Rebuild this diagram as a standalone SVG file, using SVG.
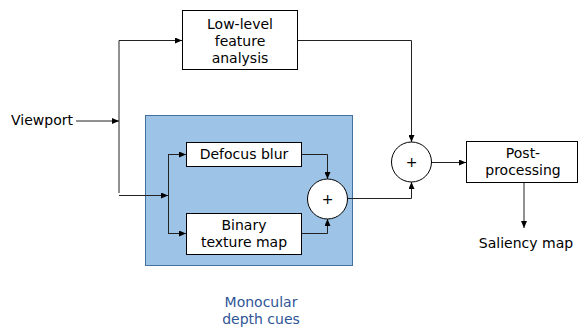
<svg xmlns="http://www.w3.org/2000/svg" width="579" height="331" viewBox="0 0 579 331">
<defs>
<marker id="ah" markerWidth="7" markerHeight="6" refX="7" refY="3" orient="auto" markerUnits="userSpaceOnUse">
<path d="M0,0 L7,3 L0,6 Z" fill="#000"/>
</marker>
<style>
text{font-family:"DejaVu Sans","Verdana",sans-serif;font-size:14px;fill:#000;text-anchor:middle}
.box{fill:#fff;stroke:#000;stroke-width:1}
.ln{fill:none;stroke:#222;stroke-width:1}
.arr{marker-end:url(#ah)}
.grp{fill:#9DC3E6;stroke:#41719C;stroke-width:1}
.blue{fill:#2F5597}
</style>
</defs>
<rect width="579" height="331" fill="#fff"/>
<g id="monocular">
<rect class="grp" x="145.5" y="115.5" width="207" height="150"/>
<text class="blue" x="261" y="307">Monocular</text>
<text class="blue" x="261" y="324">depth cues</text>
</g>
<g id="connectors">
<path class="ln arr" d="M76,121 L119,121"/>
<path class="ln" d="M119,193 L119,40.5"/>
<path class="ln arr" d="M119,40.5 L182,40.5"/>
<path class="ln arr" d="M119,195.5 L168,195.5"/>
<path class="ln" d="M168.5,154 L168.5,233"/>
<path class="ln arr" d="M168,154.5 L186,154.5"/>
<path class="ln arr" d="M168,233.5 L186,233.5"/>
<path class="ln arr" d="M302,154.5 L327.5,154.5 L327.5,179"/>
<path class="ln arr" d="M302,233.5 L327.5,233.5 L327.5,219"/>
<path class="ln arr" d="M347,198.5 L411.5,198.5 L411.5,182"/>
<path class="ln arr" d="M297,40.5 L411.5,40.5 L411.5,142"/>
<path class="ln arr" d="M431,162.5 L466,162.5"/>
<path class="ln arr" d="M524,182 L524,228"/>
</g>
<g id="viewport">
<text x="42" y="125">Viewport</text>
</g>
<g id="lowlevel">
<rect class="box" x="182.5" y="10.5" width="115" height="59"/>
<text x="240" y="29">Low-level</text>
<text x="240" y="46">feature</text>
<text x="240" y="63">analysis</text>
</g>
<g id="defocus">
<rect class="box" x="186.5" y="142.5" width="115" height="24"/>
<text x="244" y="159">Defocus blur</text>
</g>
<g id="binary">
<rect class="box" x="186.5" y="213.5" width="115" height="41"/>
<text x="244" y="230">Binary</text>
<text x="244" y="247">texture map</text>
</g>
<g id="sum1">
<circle class="box" cx="327.5" cy="199" r="20"/>
<text x="327.5" y="204">+</text>
</g>
<g id="sum2">
<circle class="box" cx="411.5" cy="162" r="20"/>
<text x="411.5" y="167">+</text>
</g>
<g id="post">
<rect class="box" x="466.5" y="141.5" width="111" height="41"/>
<text x="523" y="158">Post-</text>
<text x="523" y="175">processing</text>
</g>
<g id="saliency">
<text x="526" y="248">Saliency map</text>
</g>
</svg>
